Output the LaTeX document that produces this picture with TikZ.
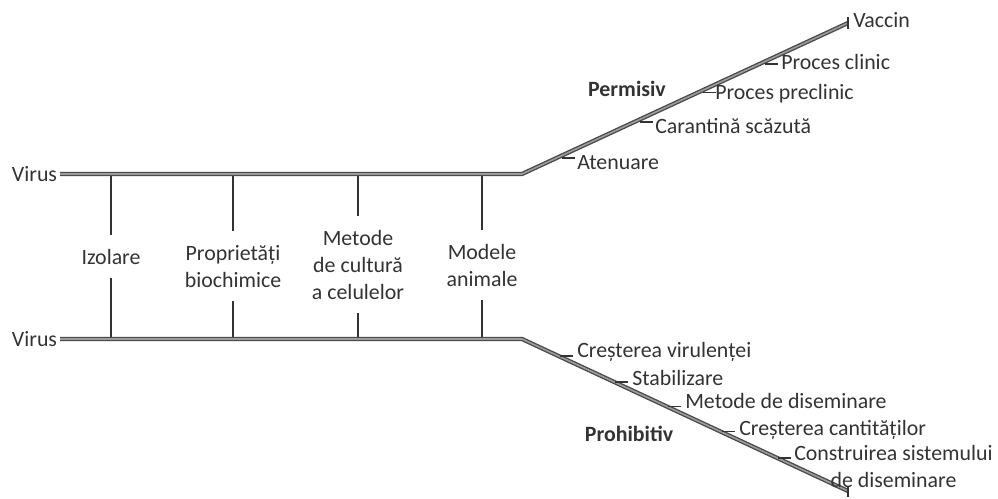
\documentclass[tikz,border=0pt]{standalone}
\usepackage{fontspec}
\setmainfont{Carlito}
\usetikzlibrary{calc}
\definecolor{txt}{HTML}{333333}
\definecolor{railc}{HTML}{4A4A4A}
\definecolor{railin}{HTML}{9C9C9C}
\begin{document}
\begin{tikzpicture}[x=0.75pt,y=-0.75pt,
  font=\fontsize{16.4}{20}\selectfont, text=txt,
  rail/.style={draw=railc, line width=1pt, double=railin, double distance=1.2pt},
  stem/.style={draw=txt, line width=1.6pt},
  tickmark/.style={draw=txt, line width=1.2pt},
  lbl/.style={inner sep=0pt, anchor=base west},
  midlbl/.style={align=center, inner xsep=2pt, inner ysep=10.5pt, anchor=base},
  boldlbl/.style={inner sep=0pt, anchor=base, font=\fontsize{16.4}{20}\selectfont\bfseries}
]
\useasboundingbox (0,0) rectangle (998,499);
% Virus labels
\node[anchor=east, inner sep=2pt] (v1) at (60,174) {Virus};
\node[anchor=east, inner sep=2pt] (v2) at (60,339) {Virus};
\coordinate (tc) at (522,174);
\coordinate (te) at (848,23);
\coordinate (bc) at (522,339);
\coordinate (be) at (848,491);
% middle labels (base anchor = baseline of the last line)
\node[midlbl] (m1) at (111,264) {Izolare};
\node[midlbl] (m2) at (233,287) {Proprietăți\\biochimice};
\node[midlbl] (m3) at (358,299) {Metode\\de cultură\\a celulelor};
\node[midlbl] (m4) at (482,286) {Modele\\animale};
\foreach \i/\x in {1/111,2/233,3/358,4/482}{
  \coordinate (s\i t) at (\x,174);
  \coordinate (s\i b) at (\x,339);
  \draw[stem] (s\i t) -- (m\i.north);
  \draw[stem] (m\i.south) -- (s\i b);
}
% rails
\draw[rail] (v1.east) -- (tc) -- (te);
\draw[rail] (v2.east) -- (bc) -- (be);
\draw[tickmark] ($(te)+(0,-6)$) -- ($(te)+(0,6)$);
\draw[tickmark] ($(be)+(0,-5)$) -- ($(be)+(0,6)$);
% top ticks and labels
\foreach \i/\t in {1/0.123,2/0.362,3/0.555,4/0.745}{
  \coordinate (p\i) at ($(tc)!\t!(te)+(0,2.5)$);
  \coordinate (p\i e) at ($(p\i)+(13,0)$);
  \draw[tickmark] (p\i) -- (p\i e);
}
\node[lbl] (a1) at (577,169) {Atenuare};
\node[lbl] (a2) at (655,133) {Carantină scăzută};
\node[lbl] (a3) at (715,100) {Proces preclinic};
\node[lbl] (a4) at (781,70) {Proces clinic};
\node[lbl] (a5) at (853,28) {Vaccin};
% bottom ticks and labels
\foreach \i/\t in {1/0.117,2/0.285,3/0.448,4/0.613,5/0.785}{
  \coordinate (q\i) at ($(bc)!\t!(be)+(0,-0.5)$);
  \coordinate (q\i e) at ($(q\i)+(13,0)$);
  \draw[tickmark] (q\i) -- (q\i e);
}
\node[lbl] (b1) at (577,357) {Creșterea virulenței};
\node[lbl] (b2) at (632,385) {Stabilizare};
\node[lbl] (b3) at (685,408) {Metode de diseminare};
\node[lbl] (b4) at (739,435) {Creșterea cantităților};
\node[lbl, align=center] (b5) at (794,487) {Construirea sistemului\\de diseminare};
% group labels
\node[boldlbl] (pm) at (627,97) {Permisiv};
\node[boldlbl] (ph) at (629,441) {Prohibitiv};
\end{tikzpicture}
\end{document}
